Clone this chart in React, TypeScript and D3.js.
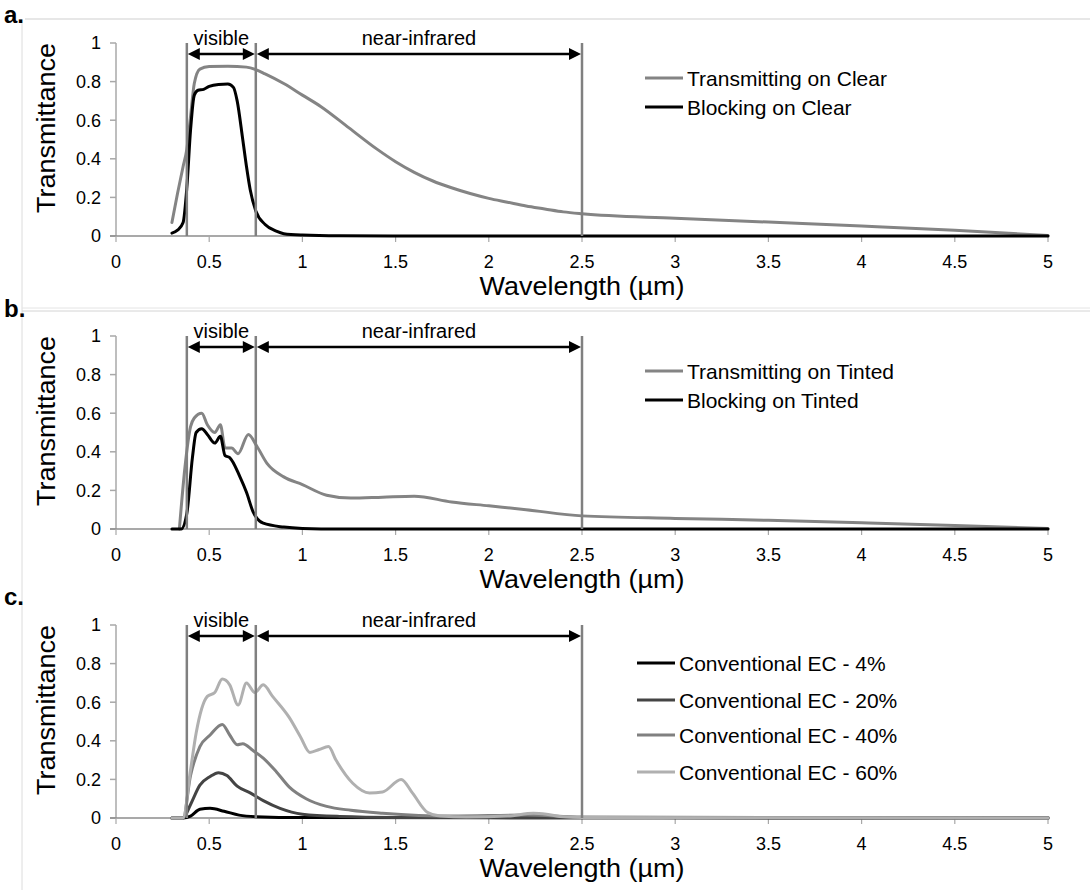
import React from 'react';
import * as d3 from 'd3';

// wavelength (um) / transmittance pairs
const clearTransWl = [0.3, 0.33, 0.36, 0.38, 0.4, 0.42, 0.45, 0.5, 0.6, 0.7, 0.75, 0.8, 0.9, 1.0, 1.1, 1.25, 1.4, 1.5, 1.6, 1.7, 1.8, 1.9, 2.0, 2.1, 2.2, 2.3, 2.4, 2.5, 3.0, 3.5, 4.0, 4.5, 5.0];
const clearTransT = [0.07, 0.22, 0.36, 0.45, 0.62, 0.79, 0.865, 0.878, 0.88, 0.875, 0.862, 0.84, 0.79, 0.73, 0.67, 0.56, 0.45, 0.385, 0.33, 0.285, 0.25, 0.22, 0.195, 0.175, 0.155, 0.14, 0.125, 0.115, 0.092, 0.072, 0.052, 0.03, 0.003];

const clearBlockWl = [0.3, 0.33, 0.36, 0.38, 0.4, 0.42, 0.44, 0.47, 0.5, 0.55, 0.6, 0.63, 0.65, 0.68, 0.7, 0.72, 0.75, 0.8, 0.86, 0.9, 1.0, 1.2, 1.5, 5.0];
const clearBlockT = [0.015, 0.03, 0.07, 0.25, 0.55, 0.73, 0.755, 0.76, 0.775, 0.785, 0.787, 0.77, 0.7, 0.5, 0.36, 0.24, 0.13, 0.06, 0.025, 0.012, 0.005, 0.001, 0, 0];

const tintTransWl = [0.34, 0.37, 0.4, 0.42, 0.46, 0.49, 0.53, 0.56, 0.585, 0.62, 0.655, 0.71, 0.755, 0.81, 0.9, 1.0, 1.13, 1.26, 1.43, 1.6, 1.8, 2.0, 2.2, 2.5, 3.0, 3.5, 4.0, 4.5, 5.0];
const tintTransT = [0.0, 0.32, 0.53, 0.575, 0.6, 0.54, 0.5, 0.54, 0.42, 0.42, 0.39, 0.49, 0.43, 0.34, 0.27, 0.23, 0.175, 0.16, 0.165, 0.17, 0.14, 0.12, 0.1, 0.068, 0.055, 0.045, 0.032, 0.018, 0.003];

const tintBlockWl = [0.3, 0.35, 0.38, 0.41, 0.43, 0.46, 0.49, 0.53, 0.56, 0.585, 0.61, 0.665, 0.7, 0.735, 0.79, 0.9, 1.0, 1.2, 5.0];
const tintBlockT = [0, 0, 0.08, 0.37, 0.5, 0.52, 0.49, 0.445, 0.48, 0.38, 0.37, 0.27, 0.19, 0.09, 0.03, 0.01, 0.003, 0, 0];

const ec60Wl = [0.3, 0.36, 0.4, 0.43, 0.49, 0.53, 0.57, 0.61, 0.655, 0.7, 0.745, 0.79, 0.84, 0.93, 0.99, 1.04, 1.09, 1.14, 1.18, 1.27, 1.36, 1.43, 1.53, 1.59, 1.67, 1.74, 1.88, 2.1, 2.24, 2.31, 2.4, 2.5, 5.0];
const ec60T = [0, 0, 0.25, 0.44, 0.63, 0.65, 0.72, 0.69, 0.585, 0.7, 0.65, 0.69, 0.63, 0.52, 0.42, 0.34, 0.355, 0.37, 0.3, 0.18, 0.13, 0.135, 0.2, 0.13, 0.03, 0.01, 0.005, 0.01, 0.025, 0.02, 0.006, 0.003, 0];

const ec40Wl = [0.3, 0.36, 0.4, 0.45, 0.505, 0.57, 0.61, 0.65, 0.68, 0.735, 0.79, 0.86, 0.93, 1.02, 1.13, 1.26, 1.43, 1.8, 2.2, 2.5, 5.0];
const ec40T = [0, 0, 0.22, 0.37, 0.43, 0.485, 0.43, 0.38, 0.385, 0.35, 0.31, 0.24, 0.16, 0.1, 0.06, 0.04, 0.025, 0.01, 0.015, 0.005, 0];

const ec20Wl = [0.3, 0.36, 0.4, 0.45, 0.505, 0.55, 0.595, 0.65, 0.72, 0.79, 0.88, 1.0, 1.2, 1.5, 2.0, 5.0];
const ec20T = [0, 0, 0.07, 0.17, 0.215, 0.235, 0.22, 0.165, 0.13, 0.09, 0.05, 0.02, 0.008, 0.003, 0.002, 0];

const ec4Wl = [0.3, 0.36, 0.4, 0.45, 0.505, 0.58, 0.66, 0.75, 1.0, 5.0];
const ec4T = [0, 0, 0.01, 0.045, 0.05, 0.035, 0.015, 0.007, 0.002, 0];

const xTicks = [0, 0.5, 1, 1.5, 2, 2.5, 3, 3.5, 4, 4.5, 5];
const yTicks = [0, 0.2, 0.4, 0.6, 0.8, 1];
const bandEdges = [0.38, 0.75, 2.5];
const bandNames = ['visible', 'near-infrared'];

const panelLetters = ['a.', 'b.', 'c.'];
const panelSeries = [
  [
    { name: 'Transmitting on Clear', wl: clearTransWl, t: clearTransT, color: '#848484' },
    { name: 'Blocking on Clear', wl: clearBlockWl, t: clearBlockT, color: '#000000' },
  ],
  [
    { name: 'Transmitting on Tinted', wl: tintTransWl, t: tintTransT, color: '#848484' },
    { name: 'Blocking on Tinted', wl: tintBlockWl, t: tintBlockT, color: '#000000' },
  ],
  [
    { name: 'Conventional EC - 4%', wl: ec4Wl, t: ec4T, color: '#000000' },
    { name: 'Conventional EC - 20%', wl: ec20Wl, t: ec20T, color: '#444444' },
    { name: 'Conventional EC - 40%', wl: ec40Wl, t: ec40T, color: '#808080' },
    { name: 'Conventional EC - 60%', wl: ec60Wl, t: ec60T, color: '#b0b0b0' },
  ],
];

const W = 1090;
const H = 890;
const FONT = '"Liberation Sans", Arial, sans-serif';
const panelTops = [43, 336, 625];
const plotH = 193;

const x = d3.scaleLinear().domain([0, 5]).range([116, 1048]);

function Panel({ idx }: { idx: number }) {
  const top = panelTops[idx];
  const y = d3.scaleLinear().domain([0, 1]).range([top + plotH, top]);
  const series = panelSeries[idx];
  const line = d3.line<number>().curve(d3.curveMonotoneX);
  const isC = idx === 2;
  const legX = isC ? 637 : 645;
  const legY = isC ? [38, 75, 110, 147] : [35, 64];
  const arrowY = y(0.943);

  // arrow: shaft + two heads
  const arrow = (x0: number, x1: number, key: string) => {
    const a = x(x0) + 1, b = x(x1) - 1;
    return (
      <g key={key}>
        <line x1={a + 8} x2={b - 8} y1={arrowY} y2={arrowY} stroke="#000" strokeWidth={2.6} />
        <path d={`M${a},${arrowY}L${a + 12},${arrowY - 6}L${a + 12},${arrowY + 6}Z`} fill="#000" />
        <path d={`M${b},${arrowY}L${b - 12},${arrowY - 6}L${b - 12},${arrowY + 6}Z`} fill="#000" />
      </g>
    );
  };

  return (
    <g>
      {/* y axis */}
      <line x1={x(0)} x2={x(0)} y1={y(1)} y2={y(0)} stroke="#a8a8a8" strokeWidth={1.5} />
      {yTicks.map(v => (
        <g key={'y' + v}>
          <line x1={x(0) - 6} x2={x(0)} y1={y(v)} y2={y(v)} stroke="#a8a8a8" strokeWidth={1.5} />
          <text x={101} y={y(v)} dy="0.35em" textAnchor="end" fontSize={18} fontFamily={FONT}>{String(v)}</text>
        </g>
      ))}
      {/* x axis */}
      <line x1={x(0) - 6} x2={x(5)} y1={y(0)} y2={y(0)} stroke="#8c8c8c" strokeWidth={1.5} />
      {xTicks.map(v => (
        <g key={'x' + v}>
          <line x1={x(v)} x2={x(v)} y1={y(0)} y2={y(0) + 6} stroke="#a8a8a8" strokeWidth={1.2} />
          <text x={x(v)} y={y(0) + 32} textAnchor="middle" fontSize={18} fontFamily={FONT}>{String(v)}</text>
        </g>
      ))}
      <text x={x(2.5)} y={y(0) + 59} textAnchor="middle" fontSize={25} fontFamily={FONT}
        textLength={205} lengthAdjust="spacingAndGlyphs">Wavelength (µm)</text>
      <text transform={`translate(55,${top + 85}) rotate(-90)`} textAnchor="middle" fontSize={25} fontFamily={FONT}
        textLength={170} lengthAdjust="spacingAndGlyphs">Transmittance</text>

      {/* curves */}
      {series.map(s => (
        <path key={s.name}
          d={line.x((_, i) => x(s.wl[i])).y(v => y(v))(s.t) || ''}
          fill="none" stroke={s.color} strokeWidth={3} strokeLinejoin="round" strokeLinecap="round" />
      ))}

      {/* band edges */}
      {bandEdges.map(b => (
        <line key={'b' + b} x1={x(b)} x2={x(b)} y1={y(1)} y2={y(0)} stroke="#808080" strokeWidth={2.5} />
      ))}
      {arrow(bandEdges[0], bandEdges[1], 'vis')}
      {arrow(bandEdges[1], bandEdges[2], 'nir')}
      {bandNames.map((n, i) => (
        <text key={n} x={(x(bandEdges[i]) + x(bandEdges[i + 1])) / 2} y={top + 2} textAnchor="middle"
          fontSize={20} fontFamily={FONT}>{n}</text>
      ))}

      {/* legend */}
      {series.map((s, i) => (
        <g key={'l' + s.name}>
          <line x1={legX} x2={legX + 38} y1={top + legY[i]} y2={top + legY[i]} stroke={s.color} strokeWidth={3.2} />
          <text x={legX + 42} y={top + legY[i]} dy="0.36em" fontSize={21} fontFamily={FONT}>{s.name}</text>
        </g>
      ))}
    </g>
  );
}

export default function App() {
  const letterY = [23, 317, 605];
  return (
    <svg width={W} height={H} style={{ position: 'absolute', left: 0, top: 0, background: '#fff' }}>
      <rect width={W} height={H} fill="#fff" />
      {/* panel frames */}
      <line x1={22} x2={22} y1={19} y2={H} stroke="#dcdcdc" strokeWidth={1} />
      <line x1={25} x2={W} y1={19} y2={19} stroke="#cfcfcf" strokeWidth={1} />
      <line x1={22} x2={W} y1={308} y2={308} stroke="#e4e4e4" strokeWidth={1} />
      <line x1={22} x2={W} y1={311} y2={311} stroke="#d4d4d4" strokeWidth={1} />
      {panelLetters.map((l, i) => (
        <text key={l} x={4} y={letterY[i]} fontSize={24} fontWeight="bold" fontFamily={FONT}>{l}</text>
      ))}
      {[0, 1, 2].map(i => <Panel key={i} idx={i} />)}
    </svg>
  );
}
